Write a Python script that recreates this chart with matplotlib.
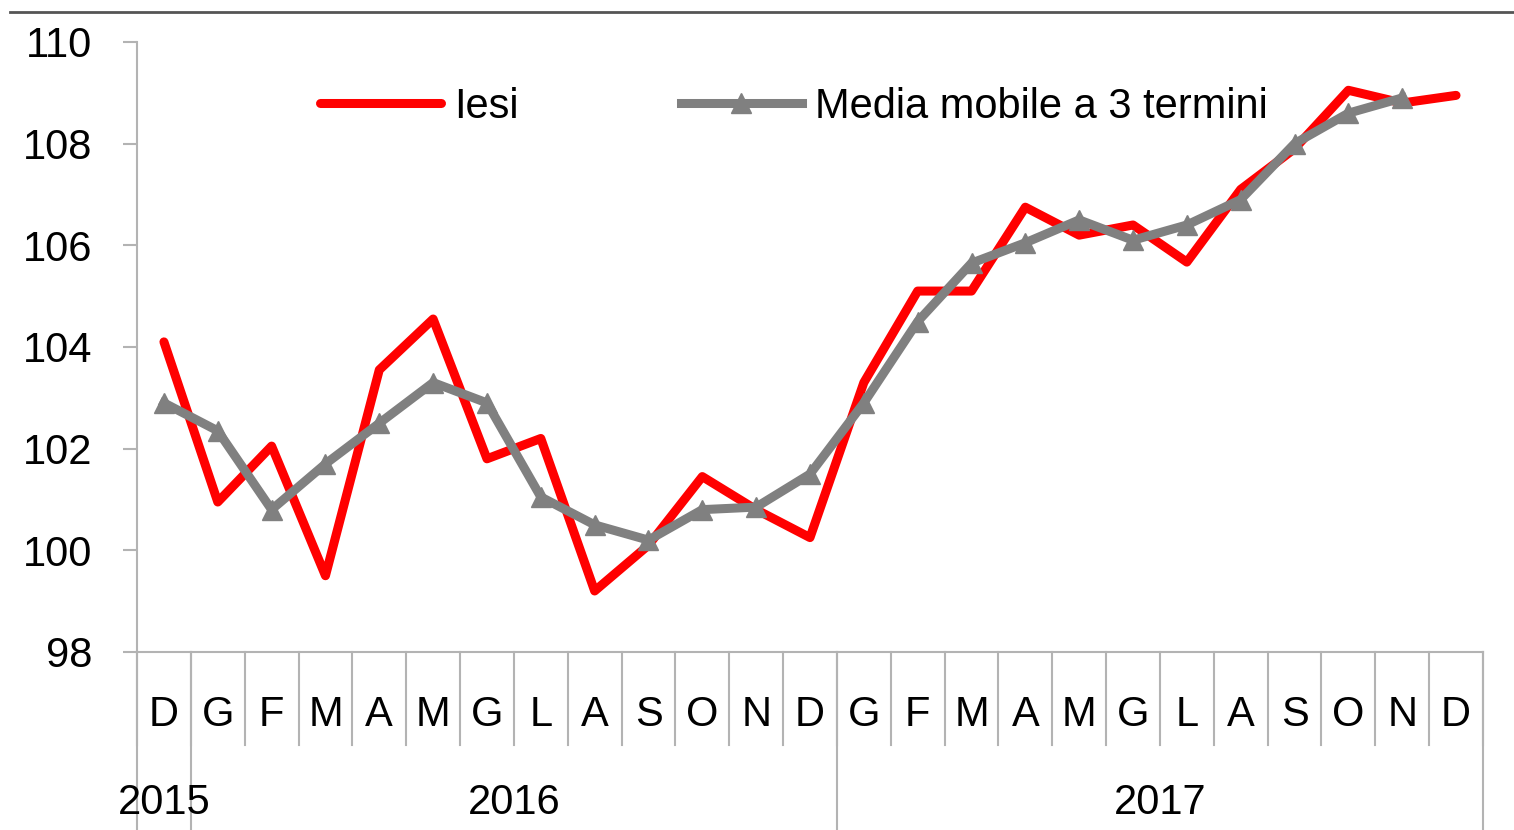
import numpy as np
import matplotlib.pyplot as plt
import matplotlib.transforms as mtransforms
from matplotlib.lines import Line2D

plt.rcParams['font.family'] = ['Liberation Sans', 'DejaVu Sans']

# Data
months = ['D', 'G', 'F', 'M', 'A', 'M', 'G', 'L', 'A', 'S', 'O', 'N', 'D',
          'G', 'F', 'M', 'A', 'M', 'G', 'L', 'A', 'S', 'O', 'N', 'D']
years = ['2015', '2016', '2017']
iesi = [104.1, 100.95, 102.05, 99.5, 103.55, 104.55, 101.8, 102.2, 99.2, 100.1,
        101.45, 100.8, 100.25, 103.3, 105.1, 105.1, 106.75, 106.2, 106.4, 105.67,
        107.1, 107.9, 109.05, 108.8, 108.95]
media_mobile = [102.9, 102.35, 100.8, 101.7, 102.5, 103.3, 102.9, 101.05, 100.5,
                100.2, 100.8, 100.85, 101.5, 102.9, 104.5, 105.65, 106.05, 106.5,
                106.1, 106.4, 106.9, 108.0, 108.6, 108.9]

fig = plt.figure(figsize=(15.14, 8.30), dpi=100)
ax = fig.add_axes([0.0905, 0.2145, 0.889, 0.7349])

x = np.arange(len(months))
axis_col = '#b3b3b3'
fs = 30

ax.plot(x, iesi, color='#ff0000', lw=6.5, solid_joinstyle='round',
        solid_capstyle='round', label='Iesi', zorder=3)
ax.plot(x[:len(media_mobile)], media_mobile, color='#808080', lw=6.5,
        marker='^', markersize=14, solid_joinstyle='round',
        label='Media mobile a 3 termini', zorder=4)

ax.set_xlim(-0.5, len(months) - 0.5)
ax.set_ylim(98, 110)
ax.set_yticks(np.arange(98, 111, 2))
ax.tick_params(axis='y', length=10, width=1.5, color=axis_col, pad=22, labelsize=fs)
ax.set_xticks([])

for s in ['top', 'right']:
    ax.spines[s].set_visible(False)
for s in ['left', 'bottom']:
    ax.spines[s].set_color(axis_col)
    ax.spines[s].set_linewidth(1.5)

trans = mtransforms.blended_transform_factory(ax.transData, ax.transAxes)

# month labels and separators
for i, m in enumerate(months):
    ax.text(i, -0.104, m, transform=trans, ha='center', va='center', fontsize=fs)
for b in np.arange(-0.5, len(months), 1.0):
    ax.plot([b, b], [0, -0.1525], transform=trans, color=axis_col, lw=1.5, clip_on=False)

# year groups
for b in [-0.5, 0.5, 12.5, 24.5]:
    ax.plot([b, b], [0, -0.3], transform=trans, color=axis_col, lw=1.5, clip_on=False)
year_pos = [0, 6.5, 18.5]
for yp, yl in zip(year_pos, years):
    ax.text(yp, -0.248, yl, transform=trans, ha='center', va='center', fontsize=fs)

ax.legend(loc='center left', bbox_to_anchor=(0.136, 0.894), ncol=2, frameon=False,
          fontsize=fs, handlelength=2.9, handletextpad=0.31, columnspacing=3.9,
          borderpad=0, borderaxespad=0)

# top rule
fig.add_artist(Line2D([10 / 1514, 1.0], [1 - 12 / 830, 1 - 12 / 830],
                      color='#555555', lw=2))

fig.savefig('out.png', dpi=100)
